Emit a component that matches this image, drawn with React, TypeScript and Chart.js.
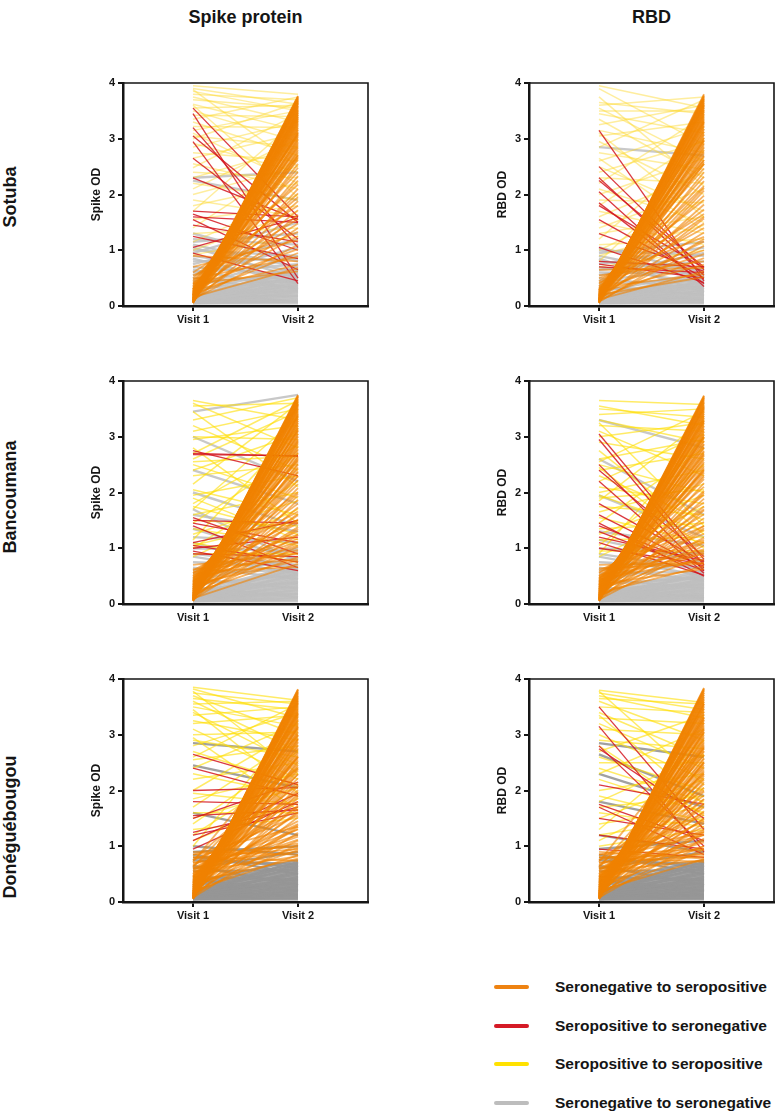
import React, { useEffect, useRef } from 'react';
import { Chart, registerables } from 'chart.js';

Chart.register(...registerables);

type Pair = [number, number];

const VISITS = ['Visit 1', 'Visit 2'];
const SITES = ['Sotuba', 'Bancoumana', 'Donéguébougou'];
const ANTIGENS = ['Spike protein', 'RBD'];
const Y_TITLES = ['Spike OD', 'RBD OD'];
const GROUPS = [
  'Seronegative to seropositive',
  'Seropositive to seronegative',
  'Seropositive to seropositive',
  'Seronegative to seronegative',
];

// ---------- Sotuba / Spike ----------
const sotubaSpikeNegPos: Pair[] = [[0.06,3.75],[0.08,3.72],[0.1,3.7],[0.07,3.68],[0.12,3.66],[0.09,3.63],[0.15,3.6],[0.11,3.58],[0.2,3.55],[0.06,3.52],[0.14,3.5],[0.18,3.47],[0.1,3.44],[0.25,3.42],[0.08,3.38],[0.22,3.35],[0.13,3.32],[0.3,3.28],[0.09,3.25],[0.17,3.2],[0.27,3.16],[0.07,3.12],[0.2,3.08],[0.35,3.05],[0.12,3.0],[0.24,2.95],[0.16,2.9],[0.4,2.85],[0.1,2.8],[0.28,2.74],[0.19,2.68],[0.33,2.62],[0.08,2.55],[0.23,2.48],[0.45,2.4],[0.14,2.33],[0.3,2.25],[0.5,2.18],[0.11,2.1],[0.26,2.02],[0.38,1.95],[0.17,1.88],[0.6,1.8],[0.21,1.72],[0.09,1.64],[0.42,1.56],[0.3,1.48],[0.15,1.4],[0.55,1.33],[0.25,1.25],[0.7,1.18],[0.12,1.1],[0.35,1.02],[0.2,0.95],[0.48,0.88],[0.9,0.8],[0.28,0.74],[0.16,0.68],[0.4,0.62],[0.06,3.77],[0.13,3.73],[0.05,3.64],[0.19,3.4],[0.1,3.1],[0.22,2.7],[0.05,3.76],[0.07,3.74],[0.09,3.71],[0.11,3.69],[0.06,3.67],[0.13,3.65],[0.08,3.62],[0.16,3.59],[0.1,3.57],[0.19,3.54],[0.07,3.51],[0.12,3.48],[0.21,3.46],[0.09,3.43],[0.15,3.39],[0.24,3.36],[0.06,3.33],[0.18,3.3],[0.11,3.27],[0.26,3.23],[0.14,3.19],[0.08,3.15],[0.2,3.11],[0.29,3.07],[0.1,3.03],[0.17,2.98],[0.23,2.93],[0.07,2.88],[0.31,2.83],[0.13,2.77],[0.2,2.71],[0.09,2.65]];
const sotubaSpikePosNeg: Pair[] = [[3.55,1.6],[3.45,0.5],[3.2,1.05],[3.05,1.5],[2.95,0.4],[2.65,1.2],[2.3,1.55],[1.7,1.6],[1.65,1.0],[1.6,1.5],[1.55,0.65],[1.45,1.15],[1.05,1.58],[0.95,0.45],[1.25,0.85]];
const sotubaSpikePosPos: Pair[] = [[3.95,3.8],[3.9,3.62],[3.85,3.5],[3.8,3.7],[3.75,3.3],[3.7,3.55],[3.62,3.15],[3.55,3.6],[3.5,2.95],[3.42,3.4],[3.35,3.75],[3.3,2.7],[3.22,3.2],[3.15,3.5],[3.05,2.85],[3.0,3.65],[2.92,2.4],[2.85,3.3],[2.75,2.6],[2.65,3.1],[2.55,2.1],[2.48,3.45],[2.4,2.3],[2.3,2.85],[2.2,1.9],[2.1,3.0],[2.0,2.5],[1.9,1.6],[1.8,2.2],[1.7,3.35],[1.55,1.8],[1.4,2.65],[1.3,1.4],[1.15,2.0],[1.0,1.7],[0.92,1.25],[3.88,2.5],[3.6,1.95],[3.1,2.2]];
const sotubaSpikeNegNeg: Pair[] = [[0.05,0.05],[0.06,0.1],[0.07,0.15],[0.08,0.2],[0.05,0.25],[0.1,0.3],[0.07,0.35],[0.12,0.4],[0.09,0.45],[0.15,0.5],[0.06,0.55],[0.2,0.6],[0.11,0.65],[0.25,0.7],[0.08,0.38],[0.3,0.48],[0.14,0.28],[0.4,0.58],[0.5,0.42],[0.6,0.75],[0.7,0.55],[0.8,0.85],[0.9,0.62],[1.0,0.9],[1.1,0.7],[1.2,1.1],[1.3,0.8],[1.15,1.3],[0.95,1.5],[2.3,2.4],[2.25,1.9],[0.55,1.05],[0.35,0.9],[0.75,1.2],[0.45,0.33],[0.18,0.18],[0.22,0.08],[0.65,0.3],[1.05,0.5],[0.85,0.4],[0.05,0.08],[0.06,0.12],[0.07,0.18],[0.08,0.23],[0.09,0.27],[0.1,0.32],[0.11,0.37],[0.12,0.42],[0.13,0.47],[0.14,0.52],[0.15,0.57],[0.16,0.62],[0.17,0.67]];

// ---------- Sotuba / RBD ----------
const sotubaRbdNegPos: Pair[] = [[0.06,3.78],[0.08,3.74],[0.1,3.71],[0.07,3.68],[0.12,3.65],[0.09,3.62],[0.14,3.58],[0.11,3.55],[0.18,3.51],[0.06,3.48],[0.13,3.44],[0.2,3.4],[0.1,3.36],[0.16,3.32],[0.08,3.28],[0.22,3.23],[0.12,3.18],[0.25,3.13],[0.09,3.08],[0.17,3.02],[0.28,2.96],[0.07,2.9],[0.2,2.84],[0.3,2.77],[0.12,2.7],[0.24,2.62],[0.15,2.55],[0.35,2.47],[0.1,2.4],[0.27,2.32],[0.18,2.24],[0.32,2.15],[0.08,2.07],[0.22,1.98],[0.4,1.9],[0.14,1.82],[0.29,1.73],[0.45,1.65],[0.11,1.57],[0.25,1.48],[0.36,1.4],[0.17,1.32],[0.5,1.24],[0.21,1.16],[0.09,1.08],[0.42,1.0],[0.3,0.93],[0.15,0.86],[0.55,0.8],[0.25,0.74],[0.65,0.68],[0.12,0.62],[0.33,0.57],[0.2,0.52],[0.05,3.8],[0.13,3.6],[0.19,3.3],[0.1,2.98],[0.23,2.58],[0.16,2.12],[0.28,1.6],[0.07,1.2],[0.05,3.77],[0.07,3.75],[0.09,3.72],[0.11,3.7],[0.06,3.67],[0.13,3.64],[0.08,3.61],[0.15,3.58],[0.1,3.55],[0.18,3.52],[0.07,3.49],[0.12,3.45],[0.2,3.42],[0.09,3.38],[0.14,3.34],[0.22,3.3],[0.06,3.26],[0.17,3.22],[0.11,3.17],[0.24,3.12],[0.13,3.07],[0.08,3.02],[0.19,2.97],[0.27,2.92],[0.1,2.86],[0.16,2.8],[0.21,2.74],[0.07,2.68],[0.28,2.62],[0.12,2.55]];
const sotubaRbdPosNeg: Pair[] = [[3.15,0.45],[2.5,0.65],[2.3,0.55],[2.25,0.7],[1.85,0.4],[1.8,0.68],[1.3,0.62],[1.05,0.42],[0.8,0.7],[0.75,0.5],[0.7,0.6],[2.05,0.35],[1.55,0.5]];
const sotubaRbdPosPos: Pair[] = [[3.95,3.55],[3.9,2.9],[3.65,3.45],[3.6,3.75],[3.55,2.6],[3.5,3.5],[3.45,3.1],[3.35,2.3],[3.25,3.6],[3.15,2.75],[3.05,3.3],[2.95,2.0],[2.85,3.7],[2.75,2.45],[2.6,3.2],[2.5,1.7],[2.4,2.95],[2.3,2.2],[2.2,3.4],[2.1,1.5],[2.0,2.65],[1.9,1.85],[1.8,3.0],[1.7,1.3],[1.6,2.4],[1.5,1.1],[1.4,2.1],[1.3,1.6],[1.2,2.8],[1.1,1.2],[1.0,1.9],[0.9,1.45],[0.8,2.55],[0.7,1.0],[3.75,2.15],[3.1,1.6],[2.65,1.35]];
const sotubaRbdNegNeg: Pair[] = [[0.05,0.05],[0.06,0.09],[0.07,0.13],[0.08,0.17],[0.05,0.21],[0.1,0.25],[0.07,0.29],[0.12,0.33],[0.09,0.37],[0.15,0.41],[0.06,0.45],[0.2,0.5],[0.11,0.55],[0.25,0.6],[0.3,0.35],[0.4,0.48],[0.5,0.3],[0.6,0.58],[0.7,0.4],[0.8,0.65],[0.9,0.52],[1.0,0.9],[0.95,1.15],[0.65,0.8],[2.85,2.7],[0.35,0.2],[0.18,0.12],[0.45,0.7],[0.55,0.95],[0.75,1.05],[0.85,0.25],[1.05,0.6],[0.05,0.07],[0.06,0.11],[0.07,0.16],[0.08,0.2],[0.09,0.24],[0.1,0.28],[0.11,0.32],[0.12,0.36],[0.13,0.4],[0.14,0.44],[0.15,0.48],[0.16,0.53],[0.17,0.58]];

// ---------- Bancoumana / Spike ----------
const bancoSpikeNegPos: Pair[] = [[0.06,3.75],[0.09,3.72],[0.07,3.69],[0.12,3.66],[0.1,3.63],[0.15,3.6],[0.08,3.57],[0.18,3.54],[0.11,3.5],[0.22,3.47],[0.14,3.43],[0.06,3.4],[0.26,3.36],[0.17,3.32],[0.1,3.28],[0.3,3.24],[0.2,3.2],[0.08,3.15],[0.34,3.1],[0.13,3.05],[0.24,3.0],[0.38,2.94],[0.16,2.88],[0.07,2.82],[0.42,2.76],[0.28,2.7],[0.12,2.63],[0.46,2.56],[0.19,2.5],[0.33,2.43],[0.09,2.36],[0.5,2.29],[0.23,2.22],[0.37,2.15],[0.14,2.08],[0.55,2.01],[0.27,1.94],[0.06,1.87],[0.41,1.8],[0.18,1.73],[0.6,1.66],[0.31,1.59],[0.11,1.52],[0.47,1.45],[0.21,1.38],[0.36,1.31],[0.08,1.24],[0.52,1.17],[0.26,1.1],[0.15,1.03],[0.44,0.97],[0.7,0.9],[0.2,0.84],[0.35,0.78],[0.1,0.72],[0.58,0.66],[0.05,3.73],[0.13,3.58],[0.09,3.38],[0.2,3.12],[0.16,2.92],[0.29,2.6],[0.11,2.3],[0.39,1.98],[0.24,1.62],[0.14,1.35],[0.48,1.12],[0.3,0.93],[0.05,3.74],[0.08,3.71],[0.1,3.68],[0.13,3.65],[0.07,3.62],[0.16,3.59],[0.09,3.56],[0.19,3.52],[0.12,3.49],[0.23,3.45],[0.06,3.41],[0.15,3.37],[0.27,3.33],[0.1,3.29],[0.2,3.25],[0.32,3.2],[0.08,3.16],[0.25,3.11],[0.14,3.06],[0.36,3.01],[0.18,2.96],[0.11,2.9],[0.3,2.84],[0.4,2.78],[0.16,2.72],[0.22,2.65],[0.44,2.58],[0.09,2.52],[0.34,2.45],[0.26,2.38],[0.5,1.25],[0.4,1.05],[0.55,1.5],[0.62,0.8]];
const bancoSpikePosNeg: Pair[] = [[2.75,2.3],[2.68,2.66],[2.7,2.65],[1.55,0.9],[1.5,1.45],[1.45,1.1],[1.4,0.65],[1.1,1.5],[1.05,0.75],[1.0,1.2],[0.95,0.6],[0.9,0.85]];
const bancoSpikePosPos: Pair[] = [[3.65,3.3],[3.6,2.8],[3.55,3.6],[3.3,3.7],[3.2,2.4],[3.1,3.5],[3.0,2.95],[2.95,3.2],[2.6,3.45],[2.55,2.65],[2.5,1.9],[2.4,3.05],[2.3,2.5],[2.15,3.6],[2.05,1.6],[1.95,2.3],[1.8,2.85],[1.75,1.25],[1.7,3.35],[1.6,2.0],[1.5,1.4],[1.45,2.7],[1.35,1.05],[1.25,1.85],[1.15,3.15],[1.05,1.5],[1.0,2.2],[0.9,0.9],[0.85,1.7],[3.45,2.1],[2.8,1.45],[1.9,1.15],[1.1,0.75],[2.7,3.65]];
const bancoSpikeNegNeg: Pair[] = [[0.05,0.05],[0.06,0.1],[0.07,0.15],[0.08,0.2],[0.05,0.25],[0.1,0.3],[0.07,0.35],[0.12,0.4],[0.09,0.45],[0.14,0.5],[0.06,0.55],[0.18,0.6],[0.11,0.65],[0.22,0.7],[0.27,0.38],[0.35,0.52],[0.45,0.28],[0.55,0.62],[0.65,0.45],[0.75,0.68],[0.85,0.55],[1.0,0.95],[1.2,1.1],[1.35,0.8],[1.6,1.3],[1.7,0.75],[2.0,1.4],[2.4,1.8],[3.45,3.75],[3.0,2.2],[0.4,0.85],[0.6,1.0],[0.15,0.18],[0.3,0.12],[0.9,0.7],[1.1,0.6],[0.05,0.08],[0.06,0.12],[0.07,0.18],[0.08,0.23],[0.09,0.27],[0.1,0.32],[0.11,0.37],[0.12,0.42],[0.13,0.47],[0.14,0.52],[0.15,0.57],[0.16,0.62],[0.17,0.67]];

// ---------- Bancoumana / RBD ----------
const bancoRbdNegPos: Pair[] = [[0.07,3.74],[0.09,3.7],[0.06,3.67],[0.12,3.64],[0.1,3.61],[0.15,3.57],[0.08,3.54],[0.18,3.5],[0.11,3.46],[0.22,3.42],[0.14,3.38],[0.06,3.34],[0.26,3.3],[0.17,3.25],[0.1,3.2],[0.3,3.15],[0.2,3.1],[0.08,3.04],[0.34,2.98],[0.13,2.92],[0.24,2.86],[0.38,2.8],[0.16,2.73],[0.07,2.66],[0.42,2.59],[0.28,2.52],[0.12,2.45],[0.46,2.38],[0.19,2.31],[0.33,2.24],[0.09,2.17],[0.5,2.1],[0.23,2.03],[0.37,1.96],[0.14,1.89],[0.55,1.82],[0.27,1.75],[0.06,1.68],[0.41,1.61],[0.18,1.54],[0.6,1.47],[0.31,1.4],[0.11,1.33],[0.47,1.26],[0.21,1.19],[0.36,1.12],[0.08,1.05],[0.52,0.98],[0.26,0.92],[0.15,0.86],[0.44,0.8],[0.7,0.74],[0.2,0.68],[0.35,0.63],[0.05,3.72],[0.13,3.52],[0.09,3.28],[0.2,3.0],[0.16,2.7],[0.29,2.4],[0.11,2.0],[0.39,1.7],[0.24,1.36],[0.14,1.1],[0.48,0.9],[0.05,3.73],[0.08,3.7],[0.1,3.67],[0.13,3.63],[0.07,3.6],[0.16,3.56],[0.09,3.53],[0.19,3.49],[0.12,3.45],[0.23,3.41],[0.06,3.37],[0.15,3.33],[0.27,3.28],[0.1,3.24],[0.2,3.19],[0.32,3.14],[0.08,3.09],[0.25,3.04],[0.14,2.99],[0.36,2.93],[0.18,2.87],[0.11,2.81],[0.3,2.75],[0.4,2.68],[0.16,2.62],[0.22,2.55],[0.44,2.48],[0.09,2.42],[0.34,2.35],[0.26,2.28],[0.5,1.15],[0.42,0.95],[0.57,1.4],[0.64,0.72]];
const bancoRbdPosNeg: Pair[] = [[3.05,0.8],[2.95,0.7],[2.5,0.6],[2.4,0.85],[2.2,0.55],[1.8,0.75],[1.45,0.5],[1.4,0.68],[1.3,0.6],[1.2,0.78],[1.1,0.52],[1.0,0.72],[1.6,0.65]];
const bancoRbdPosPos: Pair[] = [[3.65,3.58],[3.55,3.2],[3.5,3.35],[3.4,3.5],[3.3,2.9],[3.2,3.1],[3.1,2.3],[3.0,3.25],[2.9,2.6],[2.6,2.95],[2.55,3.45],[2.5,2.0],[2.4,2.7],[2.3,1.5],[2.2,3.05],[2.1,1.8],[2.0,2.4],[1.95,1.3],[1.85,3.3],[1.75,1.6],[1.65,2.15],[1.55,1.1],[1.45,2.8],[1.35,1.45],[1.25,1.95],[1.15,1.2],[1.05,2.5],[0.95,0.95],[0.85,1.75],[3.25,1.4],[2.75,1.25],[2.45,1.0],[1.9,2.05],[0.9,3.0]];
const bancoRbdNegNeg: Pair[] = [[0.05,0.05],[0.06,0.09],[0.07,0.13],[0.08,0.17],[0.05,0.21],[0.1,0.25],[0.07,0.29],[0.12,0.33],[0.09,0.37],[0.14,0.41],[0.06,0.45],[0.18,0.5],[0.11,0.55],[0.22,0.6],[0.27,0.35],[0.35,0.48],[0.45,0.28],[0.55,0.58],[0.65,0.42],[0.75,0.66],[0.85,0.5],[1.0,0.9],[1.15,0.75],[1.3,1.05],[1.95,1.2],[3.3,2.8],[2.6,1.6],[0.4,0.8],[0.6,0.95],[0.15,0.15],[0.3,0.1],[0.9,0.62],[0.05,0.07],[0.06,0.11],[0.07,0.15],[0.08,0.19],[0.09,0.23],[0.1,0.27],[0.11,0.31],[0.12,0.35],[0.13,0.39],[0.14,0.43],[0.15,0.47],[0.16,0.52],[0.17,0.57]];

// ---------- Donéguébougou / Spike ----------
const doneSpikeNegPos: Pair[] = [[0.06,3.82],[0.09,3.78],[0.07,3.75],[0.12,3.72],[0.1,3.69],[0.15,3.66],[0.08,3.63],[0.18,3.6],[0.11,3.56],[0.22,3.52],[0.14,3.48],[0.06,3.44],[0.26,3.4],[0.17,3.36],[0.1,3.32],[0.3,3.27],[0.2,3.22],[0.08,3.17],[0.34,3.12],[0.13,3.06],[0.24,3.0],[0.38,2.94],[0.16,2.88],[0.07,2.82],[0.42,2.76],[0.28,2.7],[0.12,2.63],[0.46,2.56],[0.19,2.5],[0.33,2.43],[0.09,2.36],[0.5,2.29],[0.23,2.22],[0.37,2.15],[0.14,2.08],[0.55,2.01],[0.27,1.94],[0.06,1.87],[0.41,1.8],[0.18,1.73],[0.6,1.66],[0.31,1.59],[0.11,1.52],[0.47,1.45],[0.21,1.38],[0.36,1.31],[0.08,1.24],[0.52,1.17],[0.26,1.1],[0.15,1.03],[0.44,0.97],[0.7,0.9],[0.2,0.84],[0.35,0.78],[0.8,0.74],[0.58,1.3],[0.65,2.1],[0.75,1.55],[0.85,1.0],[0.05,3.8],[0.13,3.58],[0.09,3.38],[0.2,3.14],[0.16,2.92],[0.29,2.6],[0.11,2.3],[0.39,1.98],[0.24,1.62],[0.14,1.35],[0.48,1.12],[0.3,0.93],[0.62,2.6],[0.72,3.0],[0.05,3.81],[0.08,3.77],[0.1,3.74],[0.13,3.7],[0.07,3.67],[0.16,3.64],[0.09,3.61],[0.19,3.57],[0.12,3.54],[0.23,3.5],[0.06,3.46],[0.15,3.42],[0.27,3.38],[0.1,3.34],[0.2,3.29],[0.32,3.25],[0.08,3.2],[0.25,3.15],[0.14,3.1],[0.36,3.04],[0.18,2.98],[0.11,2.92],[0.3,2.86],[0.4,2.8],[0.16,2.74],[0.22,2.67],[0.44,2.6],[0.09,2.53],[0.34,2.46],[0.26,2.39],[0.5,1.4],[0.6,1.2],[0.7,1.05],[0.8,0.95],[0.9,0.85],[0.55,0.82],[0.65,1.7],[0.75,2.4],[0.85,1.35],[0.45,1.9]];
const doneSpikePosNeg: Pair[] = [[2.65,2.1],[2.4,1.9],[2.0,2.05],[1.8,1.75],[1.55,1.65],[1.5,2.15],[1.25,1.7],[1.2,1.6],[1.1,1.95],[0.95,1.8]];
const doneSpikePosPos: Pair[] = [[3.85,3.62],[3.82,3.3],[3.75,3.55],[3.7,3.0],[3.65,3.45],[3.6,2.7],[3.55,3.6],[3.5,3.15],[3.4,2.45],[3.35,3.5],[3.25,2.9],[3.2,3.35],[3.1,2.2],[3.0,3.05],[2.9,2.6],[2.8,3.4],[2.7,2.1],[2.55,2.8],[2.4,3.2],[2.3,1.9],[2.2,2.5],[2.0,3.1],[1.95,1.75],[1.85,2.3],[1.7,2.95],[1.6,1.6],[1.5,2.05],[1.4,2.7],[1.3,1.5],[1.2,2.4],[1.1,1.85],[1.0,3.25],[3.78,2.3],[3.45,1.95],[2.95,1.65],[2.6,3.55]];
const doneSpikeNegNeg: Pair[] = [[0.05,0.05],[0.06,0.09],[0.07,0.13],[0.08,0.17],[0.05,0.21],[0.1,0.25],[0.07,0.29],[0.12,0.33],[0.09,0.37],[0.14,0.41],[0.06,0.45],[0.18,0.5],[0.11,0.55],[0.22,0.6],[0.27,0.65],[0.3,0.7],[0.35,0.75],[0.45,0.4],[0.55,0.58],[0.65,0.3],[0.75,0.68],[0.85,0.5],[0.9,1.0],[2.85,2.7],[2.45,2.05],[1.6,1.2],[1.0,0.85],[0.4,0.2],[0.15,0.12],[0.6,0.9],[0.8,0.62],[0.05,0.07],[0.06,0.11],[0.07,0.15],[0.08,0.19],[0.09,0.23],[0.1,0.27],[0.11,0.31],[0.12,0.35],[0.13,0.39],[0.14,0.43],[0.15,0.47],[0.16,0.52],[0.17,0.57],[0.18,0.62],[0.19,0.67],[0.2,0.72]];

// ---------- Donéguébougou / RBD ----------
const doneRbdNegPos: Pair[] = [[0.06,3.84],[0.09,3.8],[0.07,3.76],[0.12,3.72],[0.1,3.68],[0.15,3.64],[0.08,3.6],[0.18,3.56],[0.11,3.52],[0.22,3.47],[0.14,3.42],[0.06,3.37],[0.26,3.32],[0.17,3.27],[0.1,3.22],[0.3,3.17],[0.2,3.12],[0.08,3.06],[0.34,3.0],[0.13,2.94],[0.24,2.88],[0.38,2.82],[0.16,2.76],[0.07,2.7],[0.42,2.64],[0.28,2.58],[0.12,2.52],[0.46,2.46],[0.19,2.4],[0.33,2.33],[0.09,2.26],[0.5,2.19],[0.23,2.12],[0.37,2.05],[0.14,1.98],[0.55,1.91],[0.27,1.84],[0.06,1.77],[0.41,1.7],[0.18,1.63],[0.6,1.56],[0.31,1.49],[0.11,1.42],[0.47,1.35],[0.21,1.28],[0.36,1.21],[0.08,1.14],[0.52,1.07],[0.26,1.0],[0.15,0.94],[0.44,0.88],[0.7,0.82],[0.2,0.77],[0.8,0.72],[0.58,1.45],[0.65,2.3],[0.75,1.2],[0.85,0.95],[0.05,3.82],[0.13,3.55],[0.09,3.3],[0.2,3.05],[0.16,2.8],[0.29,2.5],[0.11,2.15],[0.39,1.85],[0.24,1.5],[0.14,1.25],[0.48,1.0],[0.62,2.75],[0.72,3.1],[0.05,3.83],[0.08,3.79],[0.1,3.75],[0.13,3.71],[0.07,3.67],[0.16,3.63],[0.09,3.59],[0.19,3.55],[0.12,3.5],[0.23,3.46],[0.06,3.41],[0.15,3.36],[0.27,3.31],[0.1,3.26],[0.2,3.21],[0.32,3.15],[0.08,3.09],[0.25,3.03],[0.14,2.97],[0.36,2.91],[0.18,2.85],[0.11,2.78],[0.3,2.71],[0.4,2.64],[0.16,2.57],[0.22,2.5],[0.44,2.43],[0.09,2.36],[0.34,2.29],[0.26,2.22],[0.5,1.3],[0.6,1.1],[0.7,0.95],[0.8,0.85],[0.9,0.78],[0.55,0.75],[0.65,1.6],[0.75,2.0],[0.85,1.25],[0.45,1.75]];
const doneRbdPosNeg: Pair[] = [[3.5,1.3],[3.15,0.9],[2.8,1.0],[2.75,1.5],[2.1,1.75],[1.75,1.1],[1.7,0.85],[1.5,1.2],[1.2,0.95],[0.95,0.8]];
const doneRbdPosPos: Pair[] = [[3.8,3.58],[3.75,3.45],[3.7,3.3],[3.65,3.55],[3.6,2.9],[3.5,3.4],[3.4,2.6],[3.3,3.2],[3.2,2.4],[3.1,3.0],[3.0,2.2],[2.9,2.75],[2.7,3.35],[2.6,2.0],[2.5,2.5],[2.4,1.8],[2.3,3.1],[2.2,1.6],[2.0,2.3],[1.9,1.45],[1.8,2.65],[1.7,1.9],[1.6,1.35],[1.5,2.2],[1.4,1.7],[1.3,2.9],[1.2,1.5],[1.1,2.05],[1.0,1.3],[3.78,2.1],[3.35,1.75],[2.8,1.55]];
const doneRbdNegNeg: Pair[] = [[0.05,0.05],[0.06,0.09],[0.07,0.13],[0.08,0.17],[0.05,0.21],[0.1,0.25],[0.07,0.29],[0.12,0.33],[0.09,0.37],[0.14,0.41],[0.06,0.45],[0.18,0.5],[0.11,0.55],[0.22,0.6],[0.27,0.65],[0.3,0.7],[0.35,0.75],[0.45,0.4],[0.55,0.58],[0.65,0.3],[0.75,0.68],[0.85,0.5],[0.95,1.1],[2.85,2.6],[2.3,1.7],[2.65,1.9],[1.8,1.4],[1.2,0.9],[0.4,0.2],[0.15,0.12],[0.6,0.9],[0.8,0.62],[0.05,0.07],[0.06,0.11],[0.07,0.15],[0.08,0.19],[0.09,0.23],[0.1,0.27],[0.11,0.31],[0.12,0.35],[0.13,0.39],[0.14,0.43],[0.15,0.47],[0.16,0.52],[0.17,0.57],[0.18,0.62],[0.19,0.67],[0.2,0.72]];

// ---------- layout & style ----------
const FONT = "'Liberation Sans', Arial, Helvetica, sans-serif";
const INK = '#151515';
const COLOR_NEG_POS = 'rgba(240,130,0,0.6)';
const COLOR_POS_NEG = 'rgba(212,22,32,0.85)';
const YELLOW_BY_ROW = ['rgba(252,214,40,0.45)', 'rgba(255,222,0,0.6)', 'rgba(255,222,0,0.6)'];
const GRAY_BY_ROW = ['rgba(192,192,192,0.85)', 'rgba(190,190,190,0.85)', 'rgba(150,150,150,0.9)'];
const LEGEND_COLORS = ['#EE8211', '#D51A26', '#FFE100', '#BDBDBD'];

const COL_LEFT = [89, 495];
const ROW_TOP = [71, 369, 667];
const SITE_LABEL_SHIFT = [2, 4, 36];
const CANVAS_W = 283;
const CANVAS_H = 265;
const Y_AXIS_W = 34;
const X_AXIS_H = 30;
const PAD_TOP = 12;
const PAD_RIGHT = 4;

interface PanelDef {
  row: number;
  col: number;
  negPos: Pair[];
  posNeg: Pair[];
  posPos: Pair[];
  negNeg: Pair[];
}

const PANELS: PanelDef[] = [
  { row: 0, col: 0, negPos: sotubaSpikeNegPos, posNeg: sotubaSpikePosNeg, posPos: sotubaSpikePosPos, negNeg: sotubaSpikeNegNeg },
  { row: 0, col: 1, negPos: sotubaRbdNegPos, posNeg: sotubaRbdPosNeg, posPos: sotubaRbdPosPos, negNeg: sotubaRbdNegNeg },
  { row: 1, col: 0, negPos: bancoSpikeNegPos, posNeg: bancoSpikePosNeg, posPos: bancoSpikePosPos, negNeg: bancoSpikeNegNeg },
  { row: 1, col: 1, negPos: bancoRbdNegPos, posNeg: bancoRbdPosNeg, posPos: bancoRbdPosPos, negNeg: bancoRbdNegNeg },
  { row: 2, col: 0, negPos: doneSpikeNegPos, posNeg: doneSpikePosNeg, posPos: doneSpikePosPos, negNeg: doneSpikeNegNeg },
  { row: 2, col: 1, negPos: doneRbdNegPos, posNeg: doneRbdPosNeg, posPos: doneRbdPosPos, negNeg: doneRbdNegNeg },
];

const toDatasets = (pairs: Pair[], color: string, width: number) =>
  pairs.map(([v1, v2]) => ({
    data: [
      { x: 1, y: v1 },
      { x: 2, y: v2 },
    ],
    borderColor: color,
    backgroundColor: color,
    borderWidth: width,
    pointRadius: 0,
    fill: false,
    tension: 0,
  }));

const boxPlugin = {
  id: 'panelBox',
  afterDraw(chart: any) {
    const { ctx, chartArea } = chart;
    const { left, right, top, bottom } = chartArea;
    ctx.save();
    ctx.strokeStyle = INK;
    ctx.lineWidth = 1.6;
    ctx.beginPath();
    ctx.moveTo(left, top);
    ctx.lineTo(right, top);
    ctx.lineTo(right, bottom);
    ctx.stroke();
    ctx.restore();
  },
};

function Panel({ def }: { def: PanelDef }) {
  const ref = useRef<HTMLCanvasElement | null>(null);
  useEffect(() => {
    if (!ref.current) return;
    // index 0 is drawn on top in Chart.js
    const datasets = [
      ...toDatasets(def.negPos, COLOR_NEG_POS, 1.8),
      ...toDatasets(def.posNeg, COLOR_POS_NEG, 1.3),
      ...toDatasets(def.posPos, YELLOW_BY_ROW[def.row], 1.5),
      ...toDatasets(def.negNeg, GRAY_BY_ROW[def.row], 2.4),
    ];
    const tickFont = { family: FONT, size: 11, weight: 'bold' as const };
    const chart = new Chart(ref.current, {
      type: 'line',
      data: { datasets },
      plugins: [boxPlugin],
      options: {
        animation: false,
        responsive: false,
        maintainAspectRatio: false,
        events: [],
        layout: { padding: { top: PAD_TOP, right: PAD_RIGHT, left: 0, bottom: 0 } },
        plugins: {
          legend: { display: false },
          tooltip: { enabled: false },
          title: { display: false },
        },
        scales: {
          x: {
            type: 'linear',
            min: 1 / 3,
            max: 8 / 3,
            afterBuildTicks: (axis: any) => {
              axis.ticks = VISITS.map((_, i) => ({ value: i + 1 }));
            },
            afterFit: (axis: any) => {
              axis.height = X_AXIS_H;
            },
            ticks: {
              autoSkip: false,
              maxRotation: 0,
              padding: 2,
              color: INK,
              font: tickFont,
              callback: (v: any) => VISITS[Math.round(Number(v)) - 1] ?? '',
            },
            grid: {
              display: true,
              drawOnChartArea: false,
              drawTicks: true,
              tickLength: 5,
              color: INK,
              lineWidth: 2,
            },
            border: { display: true, color: INK, width: 2.5 },
          },
          y: {
            type: 'linear',
            min: 0,
            max: 4,
            afterFit: (axis: any) => {
              axis.width = Y_AXIS_W;
            },
            ticks: {
              stepSize: 1,
              padding: 3,
              color: INK,
              font: tickFont,
            },
            title: {
              display: true,
              text: Y_TITLES[def.col],
              color: INK,
              font: { family: FONT, size: 12, weight: 'bold' as const },
              padding: { top: 0, bottom: 0 },
            },
            grid: {
              display: true,
              drawOnChartArea: false,
              drawTicks: true,
              tickLength: 5,
              color: INK,
              lineWidth: 2,
            },
            border: { display: true, color: INK, width: 2.5 },
          },
        },
      } as any,
    });
    return () => chart.destroy();
  }, [def]);

  return (
    <canvas
      ref={ref}
      width={CANVAS_W}
      height={CANVAS_H}
      style={{
        position: 'absolute',
        left: COL_LEFT[def.col],
        top: ROW_TOP[def.row],
        width: CANVAS_W,
        height: CANVAS_H,
      }}
    />
  );
}

export default function App() {
  const plotLeft = (c: number) => COL_LEFT[c] + Y_AXIS_W;
  const plotW = CANVAS_W - Y_AXIS_W - PAD_RIGHT;
  const plotMidY = (r: number) => ROW_TOP[r] + PAD_TOP + (CANVAS_H - PAD_TOP - X_AXIS_H) / 2;

  return (
    <div
      style={{
        position: 'absolute',
        left: 0,
        top: 0,
        width: 778,
        height: 1113,
        background: '#fff',
        fontFamily: FONT,
        color: INK,
        overflow: 'hidden',
      }}
    >
      {ANTIGENS.map((a, c) => (
        <div
          key={a}
          style={{
            position: 'absolute',
            left: plotLeft(c),
            width: plotW,
            top: 6,
            textAlign: 'center',
            fontWeight: 'bold',
            fontSize: 18,
            lineHeight: '22px',
          }}
        >
          {a}
        </div>
      ))}

      {SITES.map((s, r) => (
        <div
          key={s}
          style={{
            position: 'absolute',
            left: 10,
            top: plotMidY(r) + SITE_LABEL_SHIFT[r],
            transform: 'translate(-50%, -50%) rotate(-90deg)',
            whiteSpace: 'nowrap',
            fontWeight: 'bold',
            fontSize: 18,
            lineHeight: '20px',
          }}
        >
          {s}
        </div>
      ))}

      {PANELS.map((p) => (
        <Panel key={`${p.row}-${p.col}`} def={p} />
      ))}

      {GROUPS.map((g, i) => (
        <div
          key={g}
          style={{
            position: 'absolute',
            left: 494,
            top: 987 + i * 38.5 - 10,
            height: 20,
            display: 'flex',
            alignItems: 'center',
            whiteSpace: 'nowrap',
          }}
        >
          <span
            style={{
              display: 'inline-block',
              width: 35,
              height: 4,
              borderRadius: 2,
              background: LEGEND_COLORS[i],
              marginRight: 26,
            }}
          />
          <span style={{ fontWeight: 'bold', fontSize: 15.5 }}>{g}</span>
        </div>
      ))}
    </div>
  );
}
